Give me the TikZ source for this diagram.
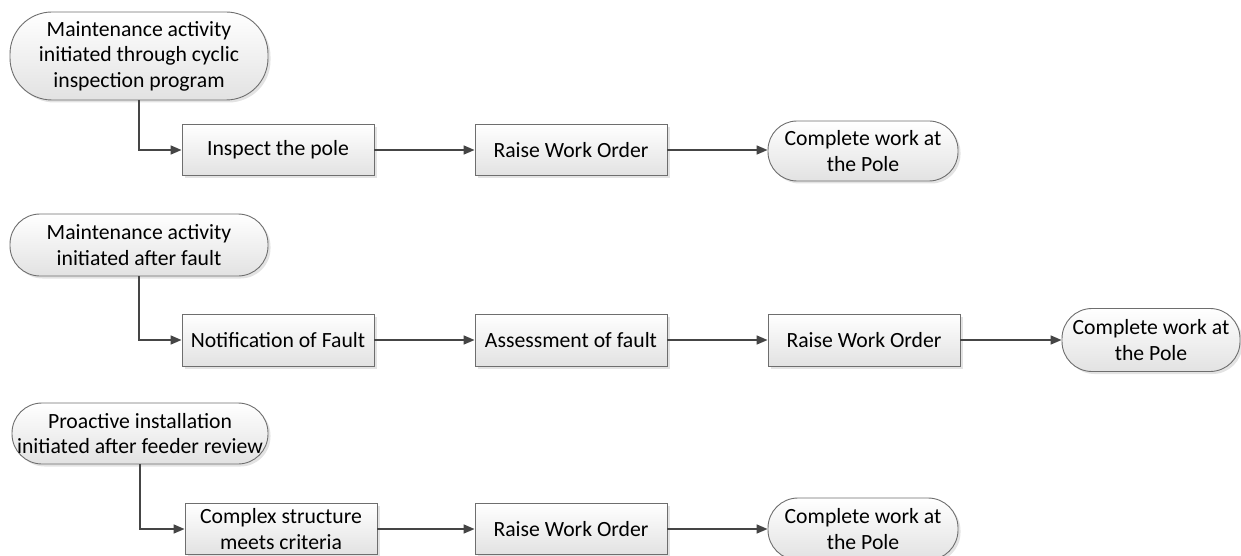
\documentclass[tikz,border=0pt]{standalone}
\usepackage{fontspec}
\setmainfont{Carlito}
\usetikzlibrary{shadows,arrows.meta}
\definecolor{bordercol}{HTML}{6E6E6E}
\definecolor{linecol}{HTML}{454545}
\definecolor{fillbot}{HTML}{E2E2E2}
\begin{document}
\begin{tikzpicture}[x=1pt,y=-1pt,
  base/.style={draw=bordercol, line width=0.9pt, top color=white, bottom color=fillbot,
    align=center, inner sep=0pt, rectangle,
    font=\fontsize{21.7}{25.5}\selectfont,
    drop shadow={opacity=0.22, shadow xshift=2.5pt, shadow yshift=-2.5pt}},
  procbox/.style={base, minimum width=192pt, minimum height=51pt},
  flow/.style={draw=linecol, line width=1.5pt, -{Triangle[length=11pt,width=9pt]}}]
\useasboundingbox (0,0) rectangle (1241,556);
\clip (0,0) rectangle (1241,556);

% Row 1
\node[base, rounded corners=42pt, minimum width=258pt, minimum height=88pt] (s1) at (139,56)
  {Maintenance activity\\initiated through cyclic\\inspection program};
\node[procbox] (b1) at (278,150) {Inspect the pole};
\node[procbox] (r1) at (571,150) {Raise Work Order};
\node[base, rounded corners=29pt, minimum width=190pt, minimum height=60pt] (c1) at (863,151)
  {Complete work at\\the Pole};

% Row 2
\node[base, rounded corners=30pt, minimum width=258pt, minimum height=62pt] (s2) at (139,245)
  {Maintenance activity\\initiated after fault};
\node[procbox, minimum height=52pt] (n2) at (278,340) {Notification of Fault};
\node[procbox, minimum height=52pt] (a2) at (571,340) {Assessment of fault};
\node[procbox, minimum height=52pt] (r2) at (864,340) {Raise Work Order};
\node[base, rounded corners=30pt, minimum width=178pt, minimum height=63pt] (c2) at (1151,340)
  {Complete work at\\the Pole};

% Row 3
\node[base, rounded corners=30pt, minimum width=256pt, minimum height=61pt] (s3) at (140,433.5)
  {Proactive installation\\initiated after feeder review};
\node[procbox] (x3) at (281,529) {Complex structure\\meets criteria};
\node[procbox] (r3) at (571,529) {Raise Work Order};
\node[base, rounded corners=30pt, minimum width=190pt, minimum height=62pt] (c3) at (863,529)
  {Complete work at\\the Pole};

% Connectors
\draw[flow] (s1.south) |- (b1.west);
\draw[flow] (b1) -- (r1);
\draw[flow] (r1) -- (c1.west |- r1);
\draw[flow] (s2.south) |- (n2.west);
\draw[flow] (n2) -- (a2);
\draw[flow] (a2) -- (r2);
\draw[flow] (r2) -- (c2);
\draw[flow] (s3.south) |- (x3.west);
\draw[flow] (x3) -- (r3);
\draw[flow] (r3) -- (c3.west |- r3);
\end{tikzpicture}
\end{document}
